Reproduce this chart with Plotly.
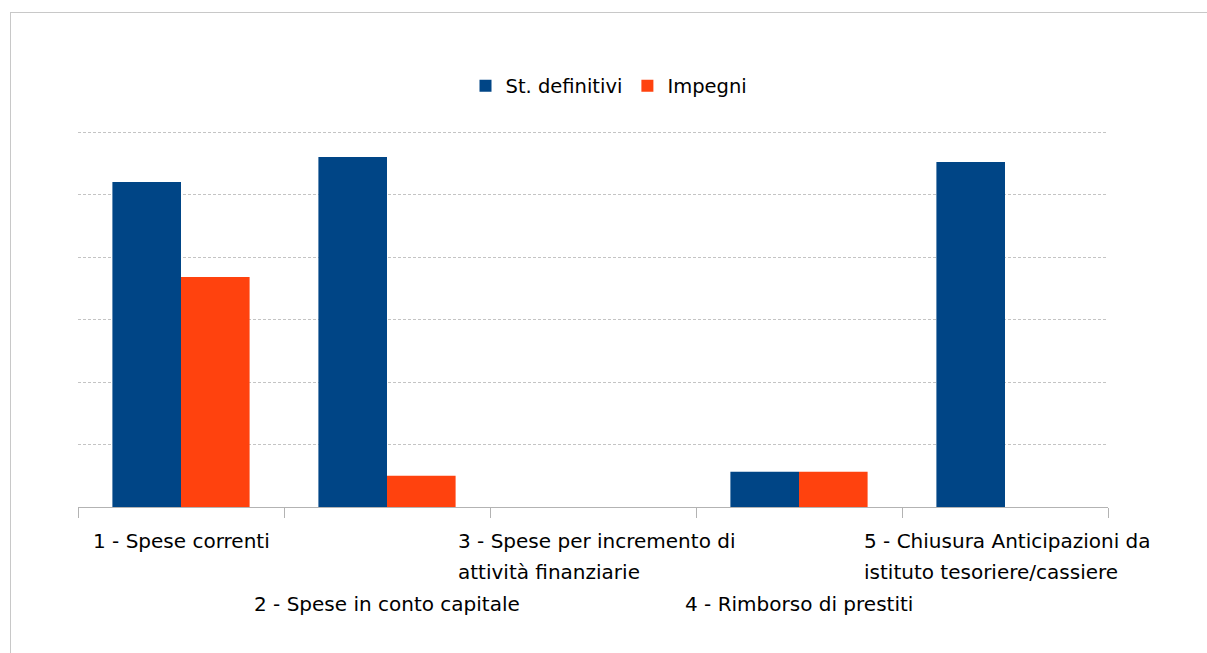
import plotly.graph_objects as go

# ---- data ----
categories = [
    "1 - Spese correnti",
    "2 - Spese in conto capitale",
    "3 - Spese per incremento di attività finanziarie",
    "4 - Rimborso di prestiti",
    "5 - Chiusura Anticipazioni da istituto tesoriere/cassiere",
]
tick_lines = [
    ["1 - Spese correnti"],
    ["2 - Spese in conto capitale"],
    ["3 - Spese per incremento di", "attività finanziarie"],
    ["4 - Rimborso di prestiti"],
    ["5 - Chiusura Anticipazioni da", "istituto tesoriere/cassiere"],
]
st_definitivi = [2600000, 2800000, 0, 282000, 2760000]
impegni = [1840000, 250000, 0, 282000, 0]
series_names = ["St. definitivi", "Impegni"]

# ---- style ----
BLUE = "#004586"
ORANGE = "#ff420e"
GRID = "#c4c4c4"
AXIS = "#b3b3b3"
FONT = "DejaVu Sans"
LABEL_SIZE = 20
LINE_GAP = 31                       # px between wrapped label lines
ROW_SHIFT = [-20, -83]              # px below axis for staggered rows
WRAP_LEFT_SHIFT = [0, 0, -137, 0, -143]   # left edge of wrapped blocks (px from category centre)

W, H = 1207, 653
ML, MR, MT, MB = 78, 99, 130, 146
plot_w = W - ML - MR
plot_h = H - MT - MB


def px_x(p):
    return (p - ML) / plot_w


def px_y(p):
    return (H - MB - p) / plot_h


fig = go.Figure()
fig.add_trace(go.Bar(name=series_names[0], x=categories, y=st_definitivi,
                     marker=dict(color=BLUE, line=dict(width=0))))
fig.add_trace(go.Bar(name=series_names[1], x=categories, y=impegni,
                     marker=dict(color=ORANGE, line=dict(width=0))))

annotations = []
for i, (cat, lines) in enumerate(zip(categories, tick_lines)):
    base_shift = ROW_SHIFT[i % 2]
    wrapped = len(lines) > 1
    for j, ln in enumerate(lines):
        annotations.append(dict(
            x=cat, xref="x", y=0, yref="paper",
            text=ln, showarrow=False, align="left",
            xanchor="left" if wrapped else "center",
            xshift=WRAP_LEFT_SHIFT[i] if wrapped else 0,
            yanchor="top",
            yshift=base_shift - LINE_GAP * j,
            font=dict(family=FONT, size=LABEL_SIZE, color="#000000"),
        ))

shapes = [
    dict(type="line", xref="paper", yref="paper",
         x0=px_x(10), x1=px_x(W + 5), y0=px_y(12.5), y1=px_y(12.5),
         line=dict(color="#c8c8c8", width=1)),
    dict(type="line", xref="paper", yref="paper",
         x0=px_x(10.5), x1=px_x(10.5), y0=px_y(12), y1=px_y(H + 5),
         line=dict(color="#c8c8c8", width=1)),
]

y_step = 500000
y_top = 3000000 + y_step * 2 / 62.5   # 2px of headroom so the top gridline is drawn

fig.update_layout(
    width=W, height=H,
    margin=dict(l=ML, r=MR, t=MT, b=MB, pad=0),
    paper_bgcolor="white", plot_bgcolor="white",
    barmode="group", bargap=0.334, bargroupgap=0,
    font=dict(family=FONT, size=19.5, color="#000000"),
    showlegend=True,
    legend=dict(orientation="h", x=px_x(609), xanchor="center",
                y=px_y(86), yanchor="middle",
                bgcolor="rgba(0,0,0,0)", font=dict(family=FONT, size=19.5),
                itemwidth=30, traceorder="normal"),
    xaxis=dict(range=[-0.5, len(categories) - 0.5], autorange=False,
               showline=True, linecolor=AXIS, linewidth=1,
               ticks="outside", tickson="boundaries", ticklen=10,
               tickcolor=AXIS, tickwidth=1,
               showticklabels=False, showgrid=False, zeroline=False),
    yaxis=dict(range=[0, y_top], autorange=False, dtick=y_step, tick0=0,
               showgrid=True, gridcolor=GRID, griddash="3px,2px", gridwidth=1,
               showticklabels=False, zeroline=False, showline=False, ticks=""),
    annotations=annotations,
    shapes=shapes,
)

fig.write_html("out.html", config={"displayModeBar": False},
               post_script="document.body.style.margin='0';")
